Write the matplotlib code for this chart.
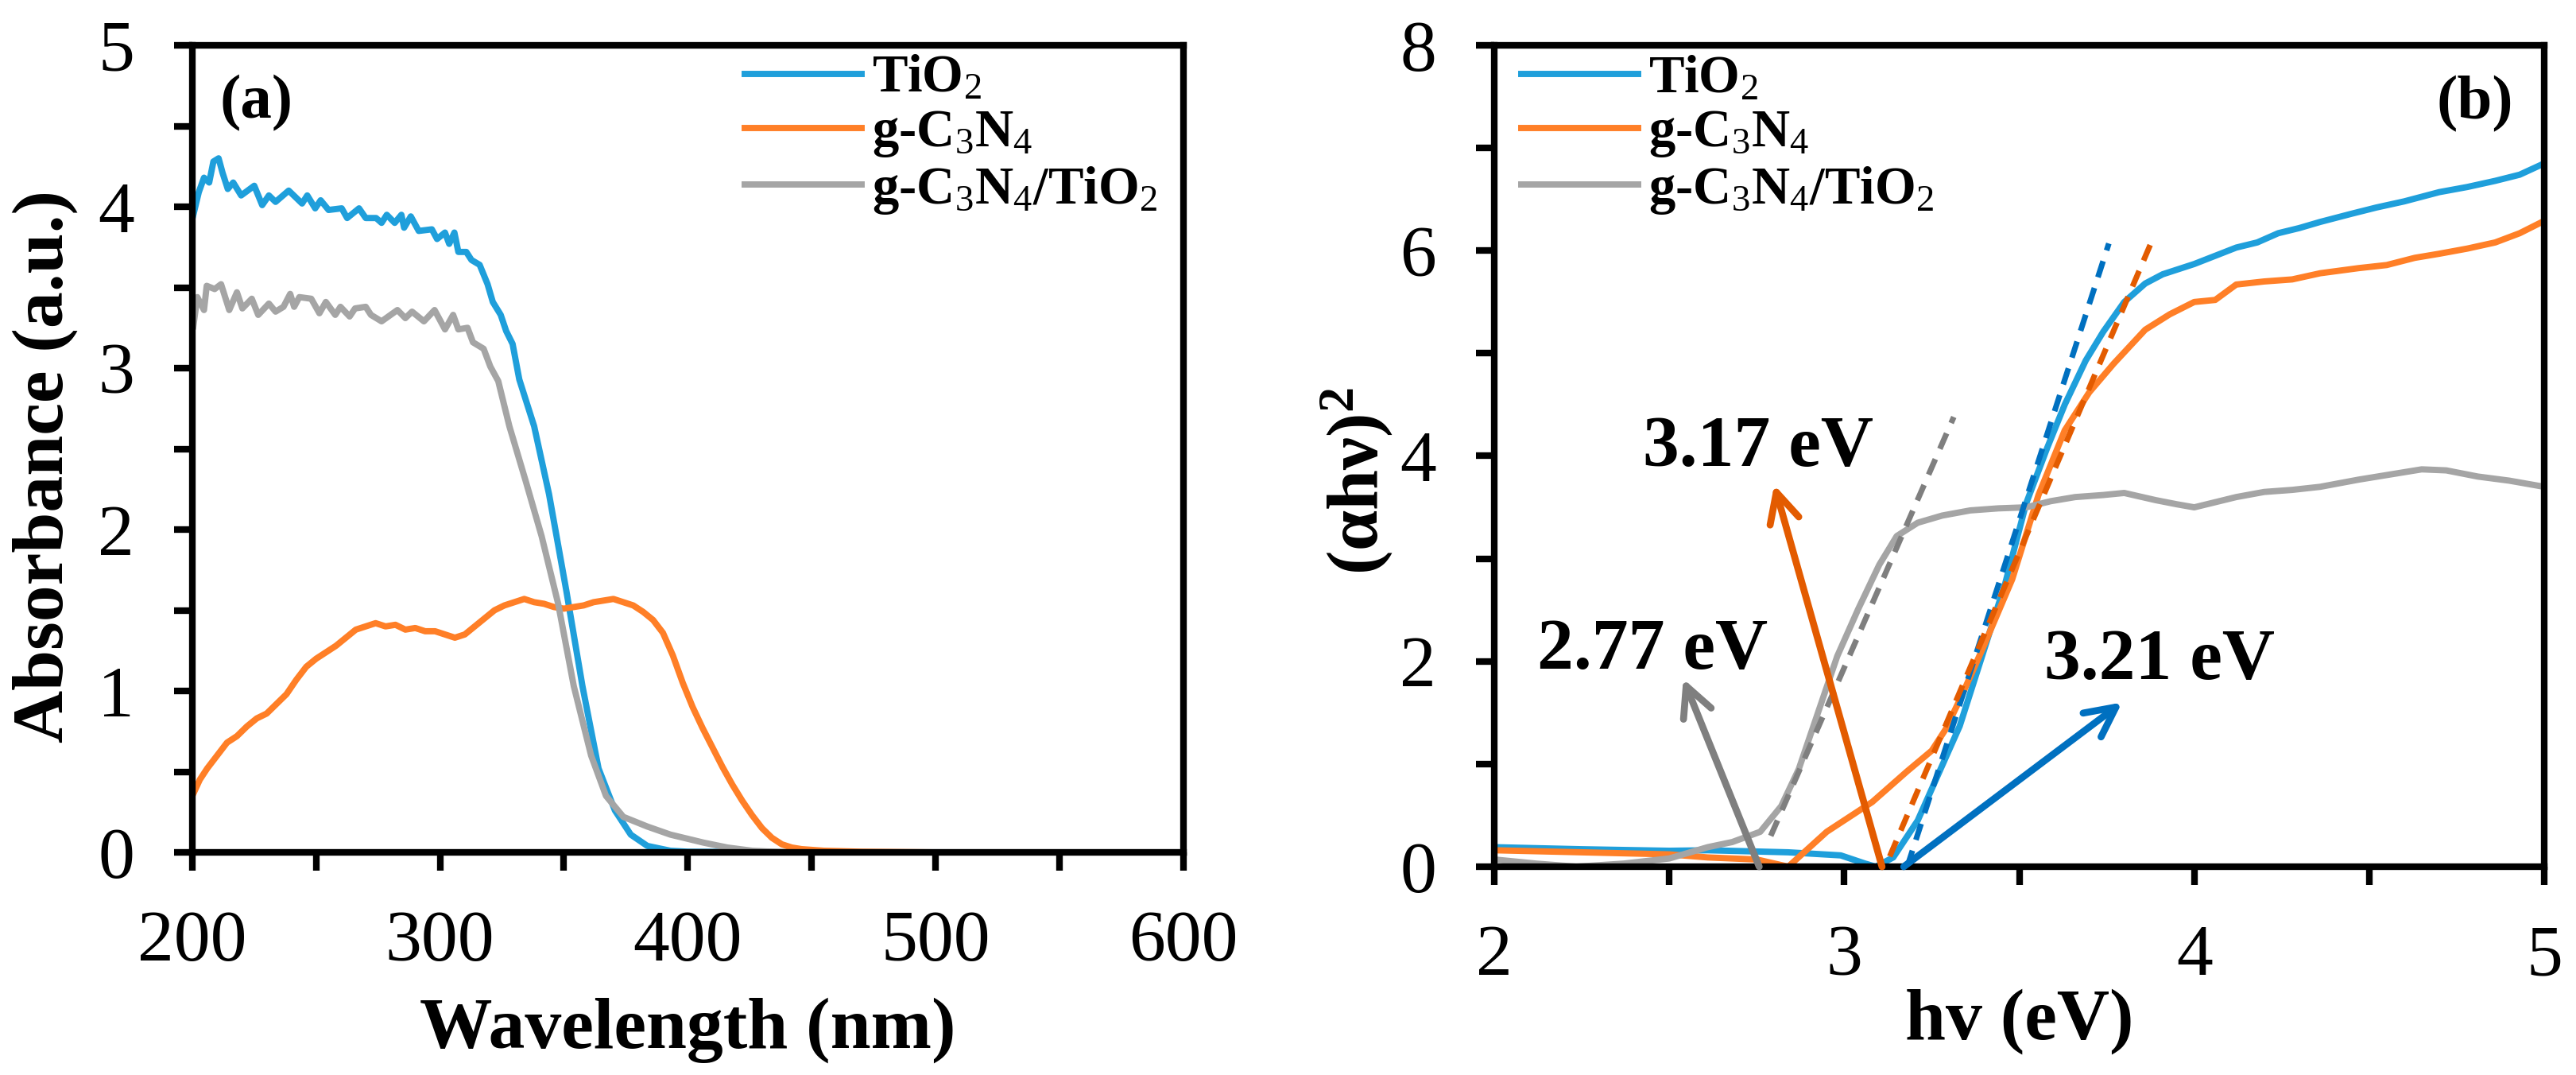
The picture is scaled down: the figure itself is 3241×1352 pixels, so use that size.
import numpy as np
import matplotlib
matplotlib.use('Agg')
import matplotlib.pyplot as plt
from matplotlib.ticker import MultipleLocator

plt.rcParams['font.family'] = ['Liberation Serif', 'DejaVu Serif']
plt.rcParams['mathtext.fontset'] = 'custom'
plt.rcParams['mathtext.rm'] = 'Liberation Serif'
plt.rcParams['mathtext.it'] = 'Liberation Serif:italic'
plt.rcParams['mathtext.bf'] = 'Liberation Serif:bold'

# ---- (a) absorbance spectra ----
wl_tio2 = [200.4, 202.6, 204.7, 206.8, 208.5, 210.6, 212.2, 214.3, 216.5, 219.7,
           225, 228.2, 230.9, 233.6, 238.9, 244.3, 246.4, 249.6, 251.8, 255,
           260.3, 262.5, 267.3, 270, 274.2, 276.4, 278.5, 281.7, 284.4, 285.5,
           288.2, 291.4, 296.7, 298.8, 302, 303.7, 305.8, 307.4, 310.6, 312.7,
           316, 319.2, 321.3, 324.5, 326.7, 329.3, 332, 338, 344, 351, 357.5,
           364, 370.6, 377, 383.7, 393, 400, 450, 600]
abs_tio2 = [3.95, 4.09, 4.18, 4.15, 4.28, 4.30, 4.21, 4.11, 4.15, 4.07,
            4.13, 4.01, 4.07, 4.03, 4.10, 4.02, 4.07, 3.99, 4.04, 3.98,
            3.99, 3.93, 3.99, 3.93, 3.93, 3.90, 3.95, 3.90, 3.95, 3.87,
            3.94, 3.85, 3.86, 3.80, 3.84, 3.77, 3.84, 3.72, 3.72, 3.67,
            3.64, 3.52, 3.41, 3.33, 3.23, 3.15, 2.93, 2.64, 2.22, 1.62, 1.03,
            0.52, 0.26, 0.11, 0.04, 0.01, 0.004, 0.0, 0.0]

wl_gcn = [200, 203, 206, 210, 214, 218, 222, 226, 230, 234, 238, 242, 246, 250,
          254, 258, 262, 266, 270, 274, 278, 282, 286, 290, 294, 298, 302, 306,
          310, 314, 318, 322, 326, 330, 334, 338, 342, 346, 350, 354, 358, 362,
          366, 370, 374, 378, 382, 386, 390, 394, 398, 402, 406, 410, 414, 418,
          422, 426, 430, 434, 438, 442, 446, 455, 470, 500, 600]
abs_gcn = [0.35, 0.45, 0.52, 0.60, 0.68, 0.72, 0.78, 0.83, 0.86, 0.92, 0.98, 1.07,
           1.15, 1.20, 1.24, 1.28, 1.33, 1.38, 1.40, 1.42, 1.40, 1.41, 1.38, 1.39,
           1.37, 1.37, 1.35, 1.33, 1.35, 1.40, 1.45, 1.50, 1.53, 1.55, 1.57, 1.55,
           1.54, 1.52, 1.51, 1.52, 1.53, 1.55, 1.56, 1.57, 1.55, 1.53, 1.49, 1.44,
           1.36, 1.22, 1.05, 0.90, 0.77, 0.65, 0.53, 0.42, 0.32, 0.23, 0.15, 0.09,
           0.05, 0.03, 0.02, 0.01, 0.004, 0.0, 0.0]

wl_comp = [200.4, 202, 204.7, 205.8, 209, 211.6, 214.9, 218, 220.2, 224, 226.6,
           230.9, 233.6, 236.8, 239.5, 241.1, 243.2, 248, 251.3, 253.9, 257.7,
           259.8, 263.5, 265.7, 270, 272.1, 276.4, 282.8, 286, 288.7, 293.5,
           297.8, 302, 305.3, 307.4, 311.1, 313.3, 317.6, 320.3, 323.5, 328,
           334.6, 341, 347.7, 354, 361, 367, 374, 383.7, 393, 406.5, 416, 426,
           440, 580]
abs_comp = [3.26, 3.44, 3.36, 3.51, 3.49, 3.52, 3.36, 3.47, 3.37, 3.43, 3.33,
            3.40, 3.35, 3.38, 3.46, 3.38, 3.44, 3.43, 3.34, 3.41, 3.33,
            3.38, 3.32, 3.37, 3.38, 3.33, 3.29, 3.36, 3.31, 3.35, 3.29,
            3.36, 3.24, 3.33, 3.24, 3.25, 3.16, 3.12, 3.01, 2.92, 2.64,
            2.30, 1.96, 1.54, 1.03, 0.60, 0.35, 0.22, 0.16, 0.11, 0.06, 0.03, 0.01,
            0.0, 0.0]

# ---- (b) Tauc plot ----
ev_tio2 = [2.0, 2.25, 2.5, 2.61, 2.84, 2.99, 3.06, 3.09, 3.14, 3.21, 3.27, 3.33,
           3.39, 3.46, 3.52, 3.58, 3.63, 3.69, 3.74, 3.80, 3.86, 3.91, 4.0, 4.06,
           4.12, 4.18, 4.24, 4.30, 4.36, 4.45, 4.52, 4.60, 4.70, 4.78, 4.86, 4.93, 5.0]
tauc_tio2 = [0.19, 0.17, 0.155, 0.16, 0.14, 0.11, 0.03, 0.0, 0.09, 0.45, 0.91, 1.37,
             2.01, 2.76, 3.54, 4.08, 4.50, 4.93, 5.21, 5.50, 5.68, 5.77, 5.87, 5.95,
             6.03, 6.08, 6.17, 6.22, 6.28, 6.36, 6.42, 6.48, 6.57, 6.62, 6.68, 6.74, 6.85]

ev_gcn = [2.0, 2.25, 2.5, 2.61, 2.75, 2.84, 2.95, 3.08, 3.18, 3.25, 3.29, 3.335,
          3.40, 3.48, 3.555, 3.63, 3.70, 3.77, 3.86, 3.93, 4.0, 4.06, 4.12, 4.20,
          4.28, 4.36, 4.47, 4.55, 4.63, 4.70, 4.78, 4.86, 4.93, 5.0]
tauc_gcn = [0.16, 0.14, 0.12, 0.09, 0.07, 0.0, 0.34, 0.63, 0.93, 1.13, 1.34, 1.66,
            2.16, 2.80, 3.62, 4.25, 4.62, 4.90, 5.23, 5.38, 5.50, 5.52, 5.67, 5.70,
            5.72, 5.78, 5.83, 5.86, 5.93, 5.97, 6.02, 6.08, 6.17, 6.29]

ev_comp = [2.0, 2.12, 2.234, 2.37, 2.5, 2.61, 2.68, 2.76, 2.82, 2.87, 2.92, 2.98,
           3.04, 3.10, 3.15, 3.21, 3.28, 3.36, 3.44, 3.52, 3.59, 3.66, 3.74, 3.80,
           3.89, 3.95, 4.0, 4.06, 4.12, 4.20, 4.28, 4.36, 4.47, 4.56, 4.65, 4.72,
           4.81, 4.90, 5.0]
tauc_comp = [0.07, 0.03, 0.0, 0.03, 0.08, 0.19, 0.24, 0.34, 0.59, 0.95, 1.45, 2.05,
             2.51, 2.94, 3.22, 3.35, 3.42, 3.47, 3.49, 3.50, 3.56, 3.60, 3.62, 3.64,
             3.57, 3.53, 3.50, 3.55, 3.60, 3.65, 3.67, 3.70, 3.77, 3.82, 3.87, 3.86,
             3.80, 3.76, 3.70]

# tangent (extrapolation) lines
tan_tio2 = ([3.18, 3.756], [0.0, 6.07])
tan_gcn = ([3.13, 3.876], [0.1, 6.07])
tan_comp = ([2.79, 3.313], [0.3, 4.38])

# band gap arrows: label, text pos, arrow tail, arrow head
gap_labels = ['3.21 eV', '3.17 eV', '2.77 eV']
gap_text = [(3.90, 2.0), (2.753, 4.07), (2.452, 2.1)]
gap_tail = [(3.17, 0.0), (3.108, 0.0), (2.757, 0.0)]
gap_head = [(3.794, 1.60), (2.80, 3.72), (2.54, 1.83)]

c_tio2 = '#1F9FDB'
c_gcn = '#FF7F27'
c_comp = '#A5A5A5'
c_dark = ['#0070C0', '#E35B00', '#7F7F7F']

labels = ['TiO$_2$', 'g-C$_3$N$_4$', 'g-C$_3$N$_4$/TiO$_2$']

fig = plt.figure(figsize=(3241 / 300, 1352 / 300), dpi=300)
ax1 = fig.add_axes([242 / 3241, 1 - 1072 / 1352, 1246.5 / 3241, 1015 / 1352])
ax2 = fig.add_axes([1880 / 3241, 1 - 1090 / 1352, 1321 / 3241, 1033 / 1352])

lw = 1.9
ax1.plot(wl_tio2, abs_tio2, color=c_tio2, lw=lw, label=labels[0])
ax1.plot(wl_gcn, abs_gcn, color=c_gcn, lw=lw, label=labels[1])
ax1.plot(wl_comp, abs_comp, color=c_comp, lw=lw, label=labels[2])

ax2.plot(ev_tio2, tauc_tio2, color=c_tio2, lw=lw, label=labels[0])
ax2.plot(ev_gcn, tauc_gcn, color=c_gcn, lw=lw, label=labels[1])
ax2.plot(ev_comp, tauc_comp, color=c_comp, lw=lw, label=labels[2])

for (tx, ty), col in zip([tan_tio2, tan_gcn, tan_comp], c_dark):
    ax2.plot(tx, ty, color=col, lw=1.7, ls=(0, (3, 2)))

for lab, tpos, tail, head, col in zip(gap_labels, gap_text, gap_tail, gap_head, c_dark):
    ax2.annotate('', xy=head, xytext=tail,
                 arrowprops=dict(arrowstyle='->,head_length=0.9,head_width=0.45',
                                 color=col, lw=2.1, shrinkA=0, shrinkB=0))
    ax2.text(tpos[0], tpos[1], lab, fontsize=22, fontweight='bold',
             ha='center', va='center')

ax1.set_xlim(200, 600)
ax1.set_ylim(0, 5)
ax1.xaxis.set_major_locator(MultipleLocator(100))
ax1.xaxis.set_minor_locator(MultipleLocator(50))
ax1.yaxis.set_major_locator(MultipleLocator(1))
ax1.yaxis.set_minor_locator(MultipleLocator(0.5))

ax2.set_xlim(2, 5)
ax2.set_ylim(0, 8)
ax2.xaxis.set_major_locator(MultipleLocator(1))
ax2.xaxis.set_minor_locator(MultipleLocator(0.5))
ax2.yaxis.set_major_locator(MultipleLocator(2))
ax2.yaxis.set_minor_locator(MultipleLocator(1))

for ax in (ax1, ax2):
    for sp in ax.spines.values():
        sp.set_linewidth(2.0)
    ax.tick_params(which='both', direction='out', length=5.5, width=2.0,
                   labelsize=22, pad=12)

ax1.set_xlabel('Wavelength (nm)', fontsize=22, fontweight='bold', va='center')
ax1.xaxis.set_label_coords(0.5, -0.22)
ax1.set_ylabel('Absorbance (a.u.)', fontsize=22, fontweight='bold', va='center')
ax1.yaxis.set_label_coords(-0.149, 0.478)

ax2.set_xlabel('hv (eV)', fontsize=22, fontweight='bold', va='center')
ax2.xaxis.set_label_coords(0.5, -0.188)
ax2.set_ylabel(r'(αhν)$^\mathbf{2}$', fontsize=22, fontweight='bold', va='center')
ax2.yaxis.set_label_coords(-0.131, 0.47)

ax1.text(0.065, 0.928, '(a)', transform=ax1.transAxes, fontsize=19,
         fontweight='bold', ha='center', va='center')
ax2.text(0.934, 0.929, '(b)', transform=ax2.transAxes, fontsize=19,
         fontweight='bold', ha='center', va='center')

leg_kw = dict(frameon=False, prop={'size': 16, 'weight': 'bold'},
              handlelength=2.2, handletextpad=0.2, labelspacing=0.1,
              borderpad=0, borderaxespad=0, loc='upper left')
ax1.legend(bbox_to_anchor=(0.5576, 0.988), **leg_kw)
ax2.legend(bbox_to_anchor=(0.0257, 0.988), **leg_kw)

fig.savefig('out.png', dpi=300)
